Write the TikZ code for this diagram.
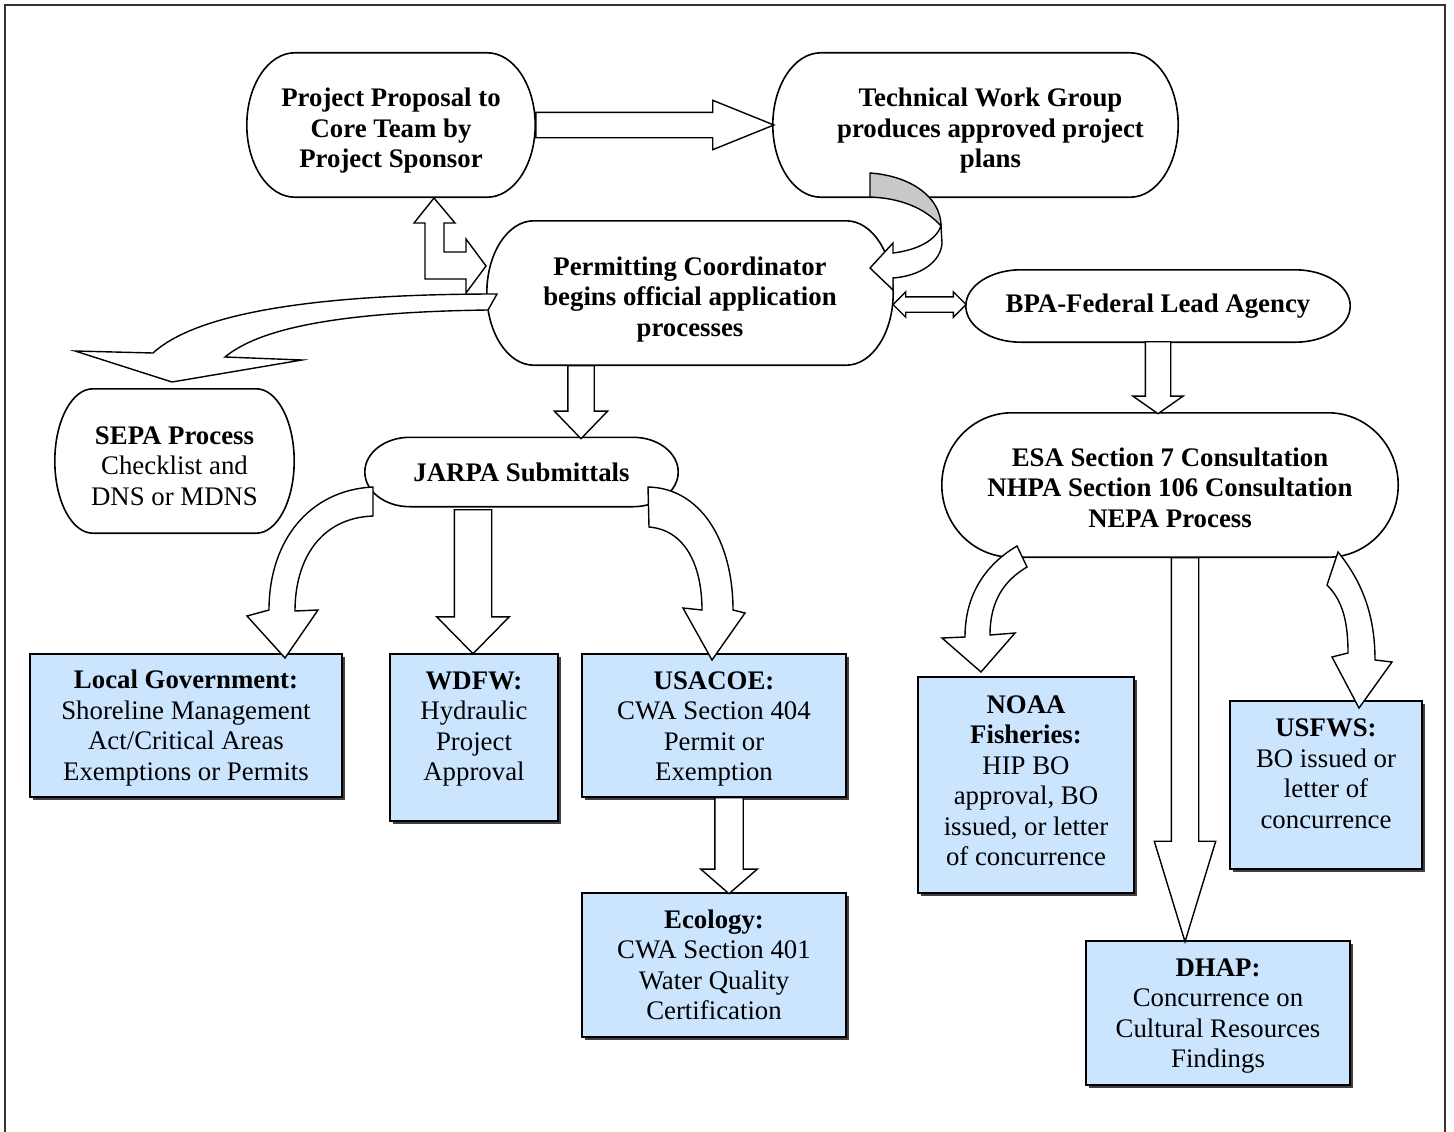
\documentclass[tikz,border=0pt]{standalone}
\usepackage{fontspec}
\setmainfont{Liberation Serif}
\usetikzlibrary{calc,shapes.arrows,shadows}

\definecolor{boxblue}{HTML}{CCE5FF}
\definecolor{ribbongray}{HTML}{C8C8C8}

\tikzset{
  pill/.style={inner sep=0pt, align=center, font=\bfseries\fontsize{26.8}{30.5}\selectfont},
  agency/.style={draw, line width=1.4pt, fill=boxblue, inner sep=0pt, align=center,
    font=\fontsize{26.8}{30.5}\selectfont,
    drop shadow={shadow xshift=2.5pt, shadow yshift=-2.5pt, fill=black!75, opacity=1}},
  blk/.style={single arrow, draw, fill=white, line width=1.4pt, inner xsep=0pt,
    single arrow head indent=0pt, anchor=tail},
  bentarrow/.style={draw, fill=white, line width=1.4pt, line join=miter},
}

% invisible strut that pushes a text block down
\newcommand{\topgap}[1]{\rule{0pt}{#1}}

% outline with elliptic ends round a node: name, corner width
\newcommand{\pillframe}[2]{%
  \draw[line width=1.6pt] ($(#1.north west)+(#2,0)$) -- ($(#1.north east)+(-#2,0)$)
    .. controls ($(#1.north east)+(-0.448*#2,0)$) and ($(#1.east)!0.552!(#1.north east)$) .. (#1.east)
    .. controls ($(#1.east)!0.552!(#1.south east)$) and ($(#1.south east)+(-0.448*#2,0)$) .. ($(#1.south east)+(-#2,0)$)
    -- ($(#1.south west)+(#2,0)$)
    .. controls ($(#1.south west)+(0.448*#2,0)$) and ($(#1.west)!0.552!(#1.south west)$) .. (#1.west)
    .. controls ($(#1.west)!0.552!(#1.north west)$) and ($(#1.north west)+(0.448*#2,0)$) .. cycle;
}

\begin{document}
\begin{tikzpicture}[x=1pt, y=-1pt]
\useasboundingbox (0,0) rectangle (1454,1132);
\draw[line width=2pt, black!80] (5,5) rectangle (1445,1150);

% process steps
\node[pill, minimum width=288pt, minimum height=144pt] (prop) at (391,125) {\topgap{30pt}Project Proposal to\\Core Team by\\Project Sponsor};
\node[pill, minimum width=405pt, minimum height=144pt] (twg) at (975.5,125) {\topgap{30pt}\hspace*{30pt}Technical Work Group\\\hspace*{30pt}produces approved project\\\hspace*{30pt}plans};
\node[pill, minimum width=406pt, minimum height=144pt] (coord) at (690,293) {\topgap{31pt}Permitting Coordinator\\begins official application\\processes};
\node[pill, minimum width=384pt, minimum height=72pt] (bpa) at (1158,306) {BPA-Federal Lead Agency};
\node[pill, minimum width=239pt, minimum height=144pt] (sepa) at (174.5,461) {\topgap{28pt}SEPA Process\\{\mdseries Checklist and}\\{\mdseries DNS or MDNS}};
\node[pill, minimum width=313pt, minimum height=69pt] (jarpa) at (521.5,472) {JARPA Submittals};
\node[pill, minimum width=456pt, minimum height=144pt] (esa) at (1170,485) {\topgap{24pt}ESA Section 7 Consultation\\NHPA Section 106 Consultation\\NEPA Process};

\pillframe{prop}{48}
\pillframe{twg}{48}
\pillframe{coord}{47}
\pillframe{bpa}{55}
\pillframe{sepa}{38}
\pillframe{jarpa}{45}
\pillframe{esa}{70}

% permits
\node[agency, minimum width=312pt, minimum height=143pt] (local) at (186,725.5) {\topgap{24pt}\textbf{Local Government:}\\Shoreline Management\\Act/Critical Areas\\Exemptions or Permits};
\node[agency, minimum width=168pt, minimum height=167pt] (wdfw) at (474,737.5) {\textbf{WDFW:}\\Hydraulic\\Project\\Approval\\[-8pt]\mbox{}};
\node[agency, minimum width=264pt, minimum height=143pt] (usace) at (714,725.5) {\topgap{25pt}\textbf{USACOE:}\\CWA Section 404\\Permit or\\Exemption};
\node[agency, minimum width=264pt, minimum height=144pt] (ecol) at (714,965) {\textbf{Ecology:}\\CWA Section 401\\Water Quality\\Certification};
\node[agency, minimum width=216pt, minimum height=216pt] (noaa) at (1026,785) {\textbf{NOAA}\\\textbf{Fisheries:}\\HIP BO\\approval, BO\\issued, or letter\\of concurrence\\[-22pt]\mbox{}};
\node[agency, minimum width=192pt, minimum height=168pt] (usfws) at (1326,785) {\textbf{USFWS:}\\BO issued or\\letter of\\concurrence\\[-8pt]\mbox{}};
\node[agency, minimum width=264pt, minimum height=144pt] (dhap) at (1218,1013) {\topgap{24pt}\textbf{DHAP:}\\Concurrence on\\Cultural Resources\\Findings};

% straight block arrows, placed by their tails
\node[blk, inner ysep=12pt, minimum height=238pt, minimum width=48pt, single arrow head extend=12pt, single arrow tip angle=44] (prop-twg) at (prop.east) {};
\node[blk, rotate=-90, inner ysep=12.5pt, minimum height=73pt, minimum width=52pt, single arrow head extend=13.5pt, single arrow tip angle=88] (coord-jarpa) at (581,365) {};
\node[blk, rotate=-90, inner ysep=18pt, minimum height=144pt, minimum width=71pt, single arrow head extend=17.5pt, single arrow tip angle=89] (jarpa-wdfw) at (473,509) {};
\node[blk, rotate=-90, inner ysep=13.5pt, minimum height=96pt, minimum width=55pt, single arrow head extend=14pt, single arrow tip angle=98] (usace-ecol) at (729,797) {};
\node[blk, rotate=-90, inner ysep=12pt, minimum height=72pt, minimum width=49pt, single arrow head extend=12.5pt, single arrow tip angle=110] (bpa-esa) at (1158,341) {};
\node[blk, rotate=-90, inner ysep=13pt, minimum height=384pt, minimum width=60pt, single arrow head extend=17pt, single arrow tip angle=34] (esa-dhap) at (1185,557) {};
\node[double arrow, draw, fill=white, line width=1.4pt, inner xsep=0pt, inner ysep=7pt, double arrow head indent=0pt,
  minimum height=73pt, minimum width=24pt, double arrow head extend=5pt, double arrow tip angle=90] (coord-bpa) at (929.5,304.5) {};

% bent block arrows
\draw[bentarrow] (434,198) -- (455,223) -- (444,223) -- (444,252) -- (466,252) -- (466,239) -- (486,266)
  -- (466,293) -- (466,279) -- (425,279) -- (425,223) -- (414,223) -- cycle;
\draw[bentarrow] (497,294) .. controls (330,294) and (200,310) .. (153,353) -- (75,351) -- (172,382)
  -- (302,360) -- (225,357) .. controls (260,328) and (340,312) .. (488,310) -- cycle;
\draw[bentarrow] (941,226) -- (942,243) .. controls (941,262) and (920,276) .. (893,278) -- (893,290) -- (870,268)
  -- (893,243) -- (893,253) .. controls (918,250) and (936,240) .. (941,226) -- cycle;
\draw[bentarrow, fill=ribbongray] (870,173) .. controls (912,176) and (941,198) .. (941,226)
  .. controls (925,208) and (900,198) .. (870,197) -- cycle;
\draw[bentarrow] (373,487) .. controls (310,490) and (269,540) .. (269,610) -- (247,616) -- (285,658)
  -- (318,610) -- (295,611) .. controls (295,560) and (320,518) .. (373,516) -- cycle;
\draw[bentarrow] (648,487) .. controls (700,488) and (733,540) .. (733,610) -- (745,613) -- (712,660)
  -- (683,608) -- (702,610) .. controls (702,565) and (685,530) .. (649,527) -- cycle;
\draw[bentarrow] (1017,546) .. controls (985,565) and (965,595) .. (965,637) -- (942,638) -- (981,672)
  -- (1015,633) -- (990,635) .. controls (990,600) and (1005,580) .. (1027,567) -- cycle;
\draw[bentarrow] (1338,552) .. controls (1365,585) and (1375,620) .. (1375,660) -- (1392,662) -- (1359,708)
  -- (1332,657) -- (1348,653) .. controls (1348,620) and (1342,600) .. (1327,585) -- cycle;
\end{tikzpicture}
\end{document}
